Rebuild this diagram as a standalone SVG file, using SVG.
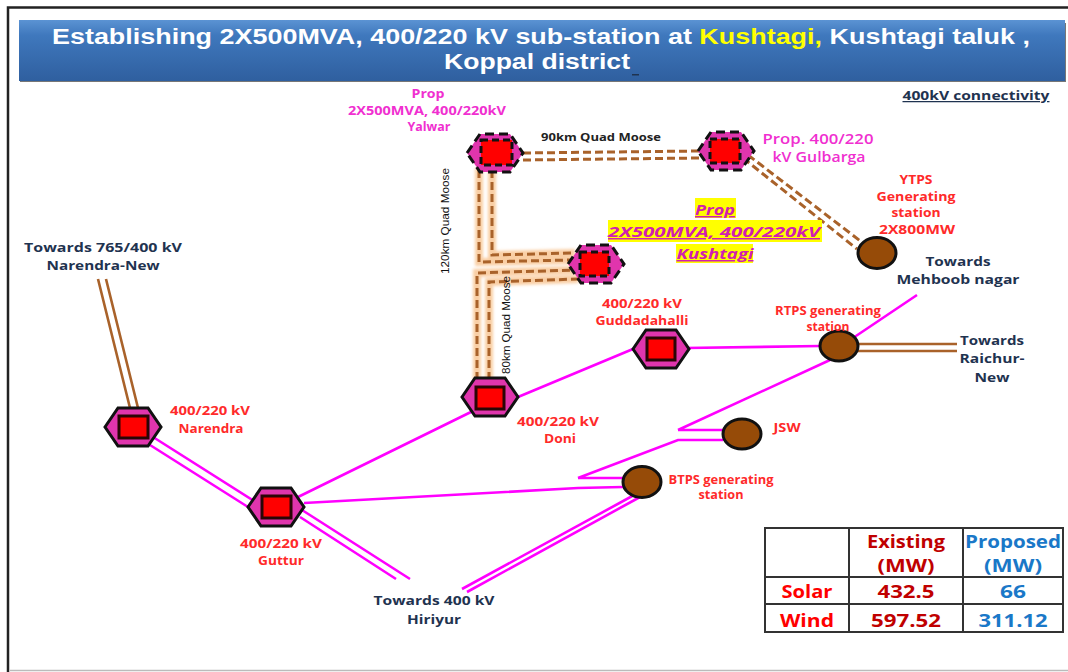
<svg xmlns="http://www.w3.org/2000/svg" width="1068" height="672" viewBox="0 0 1068 672">
<style>
text{font-family:"Open Sans","Liberation Sans",sans-serif;font-weight:700;text-anchor:middle}
.r{fill:#ff2a2a;font-size:12.5px}
.rb{fill:#ff2a2a;font-size:11.5px}
.y{fill:#ff2a2a;font-size:12.5px}
.p{fill:#f02fd0;font-size:11.5px}
.g2{fill:#f02fd0;font-size:14px;font-weight:600}
.n{fill:#1f3350;font-size:13px}
.k{fill:#222;font-size:11px}
.cn{fill:#1f3350;font-size:12.5px;text-decoration:underline}
.kv{fill:#111;font-size:11px;font-family:"Liberation Sans",sans-serif;font-weight:400}
.ku{fill:#d020b0;font-size:15px;font-style:italic;text-decoration:underline}
.t{fill:#fff;font-family:"Liberation Sans",sans-serif;font-size:21.5px;font-weight:700}
.hex{fill:#e035ad;stroke:#111;stroke-width:3}
.hexd{fill:#e035ad;stroke:#111;stroke-width:3;stroke-dasharray:9 5}
.sq{fill:#ff0000;stroke:#2a0505;stroke-width:3}
.sqd{fill:#ff0000;stroke:#111;stroke-width:3;stroke-dasharray:7 4}
.gen{fill:#964b08;stroke:#111;stroke-width:3}
.m{fill:none;stroke:#ff00ff;stroke-width:2.6}
.b{fill:none;stroke:#a9622a;stroke-width:2.6}
.d{fill:none;stroke:#a9622a;stroke-width:3;stroke-dasharray:8 4}
.g{fill:none;stroke:#f7bd85;stroke-width:8;stroke-opacity:.75;filter:url(#soft)}
.tl{stroke:#333;stroke-width:2;fill:none}
.ex{fill:#c00000;font-size:18px}
.pr{fill:#1a78c8;font-size:18px}
.rw{fill:#ff0000;font-size:18px}
</style>
<defs>
<linearGradient id="bar" x1="0" y1="0" x2="0" y2="1">
<stop offset="0" stop-color="#5b93d3"/><stop offset=".25" stop-color="#3f78bd"/><stop offset="1" stop-color="#2f5f9f"/>
</linearGradient>
<filter id="soft" x="-20%" y="-20%" width="140%" height="140%"><feGaussianBlur stdDeviation="1.6"/></filter>
<polygon id="h" points="-28,0 -15,-19 15,-19 28,0 15,19 -15,19"/>
</defs>
<rect width="1068" height="672" fill="#fff"/>
<path d="M8 672V7.500H1068" fill="none" stroke="#222" stroke-width="2.500"/>
<path d="M10 670.500H1068" fill="none" stroke="#bbb" stroke-width="1.500"/>
<g id="title">
<rect x="20" y="23" width="1046" height="59" fill="#777"/>
<rect x="19" y="20" width="1046" height="61" fill="url(#bar)"/>
<text class="t" x="541" y="44" textLength="978" lengthAdjust="spacingAndGlyphs">Establishing 2X500MVA, 400/220 kV sub-station at <tspan fill="#ffff00">Kushtagi,</tspan> Kushtagi taluk ,</text>
<text class="t" x="537" y="69" textLength="186" lengthAdjust="spacingAndGlyphs">Koppal district</text>
<rect x="632" y="74" width="7" height="1.500" fill="#1f3350"/>
</g>
<text class="cn" x="976" y="100" textLength="147" lengthAdjust="spacingAndGlyphs">400kV connectivity</text>
<g id="connectors">
<path class="g" d="M479 168V262L572 260M492 168V255L575 253"/>
<path class="g" d="M477 380V273L575 270M489 380V282L578 279"/>
<path class="d" d="M479 170V262L570 260M492 170V255L573 253"/>
<path class="d" d="M477 380V273L575 270M489 380V282L578 279"/>
<path class="d" d="M523 153L700 151M523 160L700 158M748 155L863 243M743 158L857 249"/>
<path class="b" d="M98 279L131 412M106 279L139 412M858 344H957M858 351H957"/>
<path class="m" d="M153 437L262 506M150 445L248 507M302 510L410 579M300 517L396 579M298 497L473 411M518 397L633 349M685 348L820 346M304 503L578 488L623 487M578 478H623M578 478L678 440H723M678 430H723M678 430L830 360M850 340L917 295M636 494L462 589M640 497L467 592"/>
</g>
<g id="yalwar"><use href="#h" x="495" y="153" class="hexd"/><rect class="sqd" x="481" y="140" width="31" height="25"/></g>
<g id="gulbarga"><use href="#h" x="726" y="151" class="hexd"/><rect class="sqd" x="710" y="139" width="30" height="24"/></g>
<g id="kushtagi"><use href="#h" x="596" y="264" class="hexd"/><rect class="sqd" x="580" y="252" width="29" height="24"/></g>
<g id="doni"><use href="#h" x="490" y="397" class="hex"/><rect class="sq" x="476" y="387" width="28" height="22"/></g>
<g id="guddadahalli"><use href="#h" x="661" y="349" class="hex"/><rect class="sq" x="647" y="338" width="28" height="22"/></g>
<g id="narendra"><use href="#h" x="133" y="427" class="hex"/><rect class="sq" x="119" y="416" width="29" height="22"/></g>
<g id="guttur"><use href="#h" x="276" y="507" class="hex"/><rect class="sq" x="262" y="496" width="29" height="22"/></g>
<g id="ytps"><ellipse class="gen" cx="877" cy="253" rx="19" ry="15.500"/></g>
<g id="rtps"><ellipse class="gen" cx="839" cy="346" rx="19" ry="15"/></g>
<g id="jsw"><ellipse class="gen" cx="742" cy="434" rx="19" ry="15"/></g>
<g id="btps"><ellipse class="gen" cx="642" cy="482" rx="19" ry="15.500"/></g>
<g id="labels">
<text class="p" x="428" y="98" textLength="33" lengthAdjust="spacingAndGlyphs">Prop</text>
<text class="p" x="427" y="115" textLength="158" lengthAdjust="spacingAndGlyphs">2X500MVA, 400/220kV</text>
<text class="p" x="429" y="131" textLength="43" lengthAdjust="spacingAndGlyphs">Yalwar</text>
<text class="k" x="601" y="141" textLength="120" lengthAdjust="spacingAndGlyphs">90km Quad Moose</text>
<text class="g2" x="818" y="144" textLength="111" lengthAdjust="spacingAndGlyphs">Prop. 400/220</text>
<text class="g2" x="819" y="162" textLength="93" lengthAdjust="spacingAndGlyphs">kV Gulbarga</text>
<text class="y" x="916" y="184" textLength="33" lengthAdjust="spacingAndGlyphs">YTPS</text>
<text class="y" x="916" y="201" textLength="79" lengthAdjust="spacingAndGlyphs">Generating</text>
<text class="y" x="916" y="217" textLength="49" lengthAdjust="spacingAndGlyphs">station</text>
<text class="y" x="917" y="234" textLength="76" lengthAdjust="spacingAndGlyphs">2X800MW</text>
<rect x="695" y="198" width="41" height="20" fill="#ffff00"/>
<rect x="608" y="220" width="214" height="22" fill="#ffff00"/>
<rect x="676" y="244" width="77" height="19" fill="#ffff00"/>
<text class="ku" x="715" y="215" textLength="40" lengthAdjust="spacingAndGlyphs">Prop</text>
<text class="ku" x="714" y="237" textLength="212" lengthAdjust="spacingAndGlyphs">2X500MVA, 400/220kV</text>
<text class="ku" x="715" y="259" textLength="77" lengthAdjust="spacingAndGlyphs">Kushtagi</text>
<text class="kv" transform="translate(449 221) rotate(-90)" textLength="106" lengthAdjust="spacingAndGlyphs">120km Quad Moose</text>
<text class="kv" transform="translate(510 325) rotate(-90)" textLength="98" lengthAdjust="spacingAndGlyphs">80km Quad Moose</text>
<text class="n" x="103" y="252" textLength="158" lengthAdjust="spacingAndGlyphs">Towards 765/400 kV</text>
<text class="n" x="103" y="270" textLength="113" lengthAdjust="spacingAndGlyphs">Narendra-New</text>
<text class="n" x="958" y="266" textLength="65" lengthAdjust="spacingAndGlyphs">Towards</text>
<text class="n" x="958" y="284" textLength="123" lengthAdjust="spacingAndGlyphs">Mehboob nagar</text>
<text class="n" x="992" y="345" textLength="64" lengthAdjust="spacingAndGlyphs">Towards</text>
<text class="n" x="992" y="363" textLength="65" lengthAdjust="spacingAndGlyphs">Raichur-</text>
<text class="n" x="992" y="382" textLength="35" lengthAdjust="spacingAndGlyphs">New</text>
<text class="n" x="434" y="605" textLength="121" lengthAdjust="spacingAndGlyphs">Towards 400 kV</text>
<text class="n" x="434" y="624" textLength="54" lengthAdjust="spacingAndGlyphs">Hiriyur</text>
<text class="r" x="210" y="415" textLength="80" lengthAdjust="spacingAndGlyphs">400/220 kV</text>
<text class="r" x="211" y="433" textLength="65" lengthAdjust="spacingAndGlyphs">Narendra</text>
<text class="r" x="281" y="548" textLength="82" lengthAdjust="spacingAndGlyphs">400/220 kV</text>
<text class="r" x="281" y="565" textLength="46" lengthAdjust="spacingAndGlyphs">Guttur</text>
<text class="r" x="558" y="426" textLength="82" lengthAdjust="spacingAndGlyphs">400/220 kV</text>
<text class="r" x="560" y="443" textLength="32" lengthAdjust="spacingAndGlyphs">Doni</text>
<text class="r" x="642" y="308" textLength="80" lengthAdjust="spacingAndGlyphs">400/220 kV</text>
<text class="r" x="642" y="325" textLength="93" lengthAdjust="spacingAndGlyphs">Guddadahalli</text>
<text class="rb" x="828" y="315" textLength="106" lengthAdjust="spacingAndGlyphs">RTPS generating</text>
<text class="rb" x="828" y="331" textLength="43" lengthAdjust="spacingAndGlyphs">station</text>
<text class="rb" x="787" y="432" textLength="27" lengthAdjust="spacingAndGlyphs">JSW</text>
<text class="rb" x="721" y="484" textLength="105" lengthAdjust="spacingAndGlyphs">BTPS generating</text>
<text class="rb" x="721" y="499" textLength="45" lengthAdjust="spacingAndGlyphs">station</text>
</g>
<g id="table">
<path class="tl" d="M765 528H1063V632H765ZM849 528V632M963 528V632M765 577H1063M765 604H1063"/>
<text class="ex" x="906" y="548" textLength="78" lengthAdjust="spacingAndGlyphs">Existing</text>
<text class="ex" x="906" y="572" textLength="57" lengthAdjust="spacingAndGlyphs">(MW)</text>
<text class="pr" x="1013" y="548" textLength="96" lengthAdjust="spacingAndGlyphs">Proposed</text>
<text class="pr" x="1013" y="572" textLength="58" lengthAdjust="spacingAndGlyphs">(MW)</text>
<text class="rw" x="807" y="598" textLength="51" lengthAdjust="spacingAndGlyphs">Solar</text>
<text class="rw" x="807" y="627" textLength="54" lengthAdjust="spacingAndGlyphs">Wind</text>
<text class="ex" x="906" y="598" textLength="57" lengthAdjust="spacingAndGlyphs">432.5</text>
<text class="ex" x="906" y="627" textLength="70" lengthAdjust="spacingAndGlyphs">597.52</text>
<text class="pr" x="1013" y="598" textLength="26" lengthAdjust="spacingAndGlyphs">66</text>
<text class="pr" x="1013" y="627" textLength="69" lengthAdjust="spacingAndGlyphs">311.12</text>
</g>
</svg>
